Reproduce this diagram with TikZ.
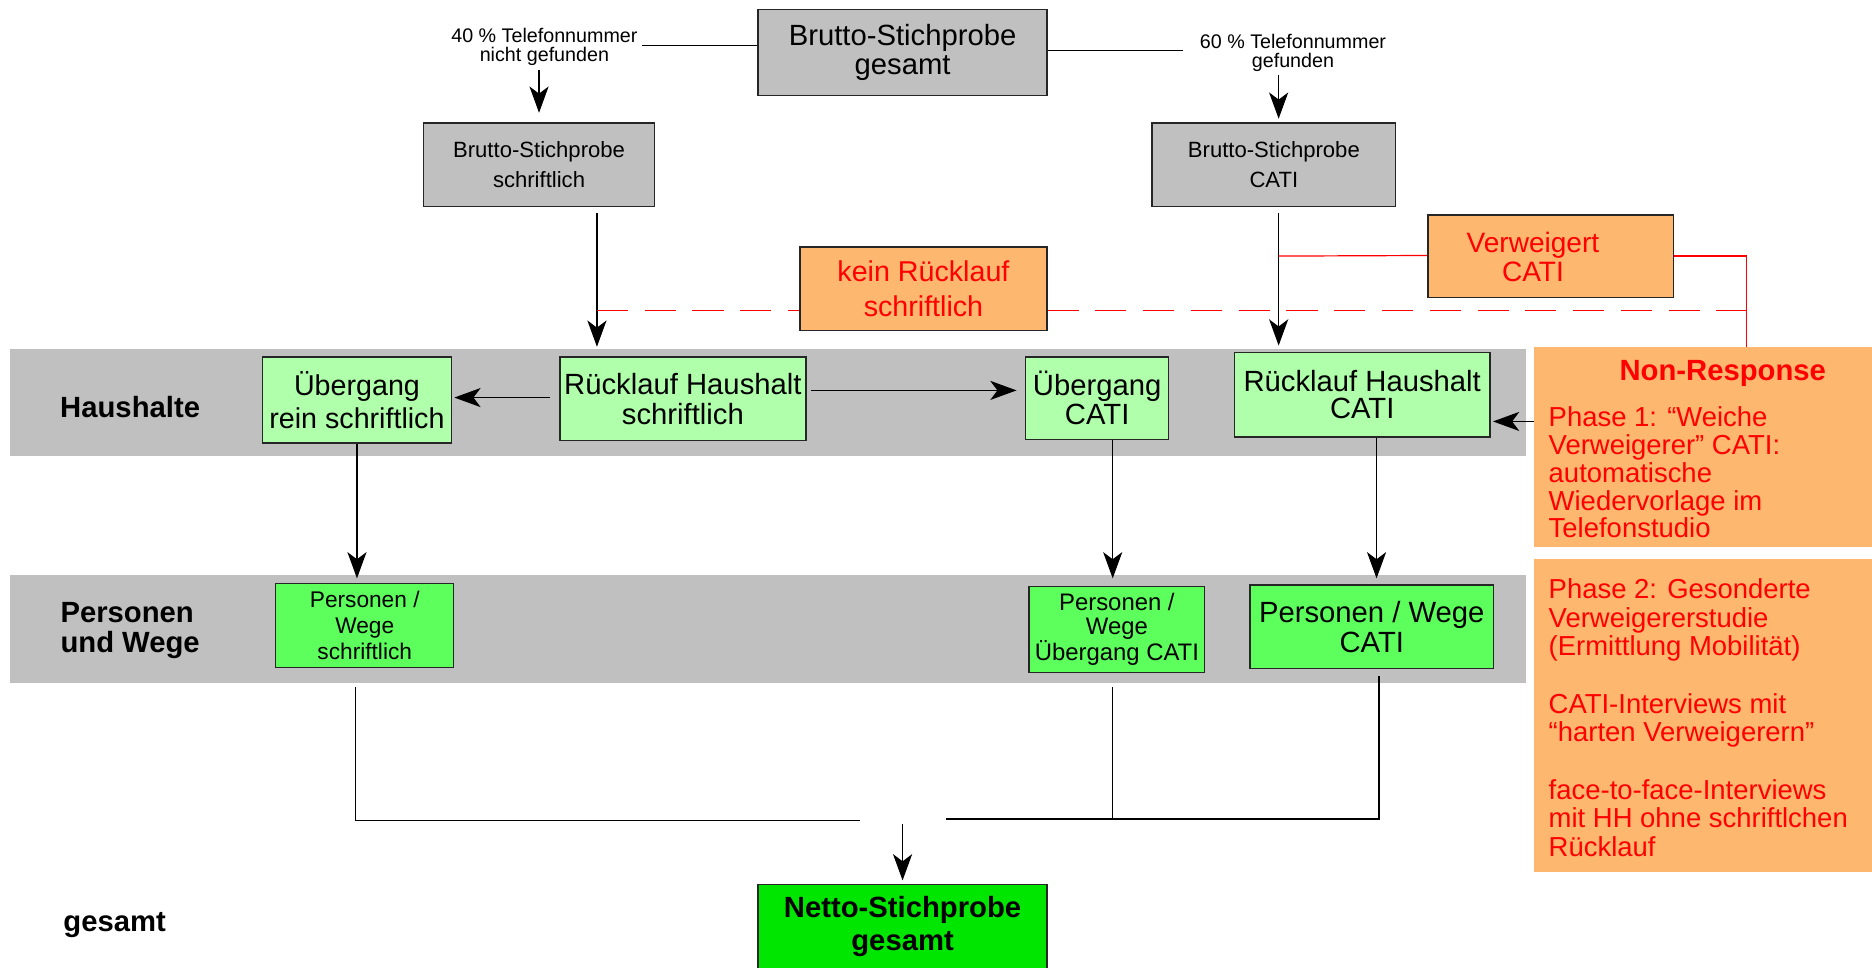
\documentclass[tikz,border=0pt]{standalone}
\usepackage{fontspec}
\setmainfont{Liberation Sans}
\usetikzlibrary{arrows.meta,calc}
\definecolor{bandgray}{RGB}{192,192,192}
\definecolor{lgreen}{RGB}{176,255,170}
\definecolor{bgreen}{RGB}{92,255,92}
\definecolor{ngreen}{RGB}{0,230,0}
\definecolor{orangeb}{RGB}{253,183,110}
\definecolor{redt}{RGB}{255,0,0}
\newcommand\fsz[2]{\fontsize{#1}{#2}\selectfont}
\tikzset{
  box/.style={draw=black!85, line width=1.1pt, align=center, inner sep=0pt, text=black},
  graybox/.style={box, fill=bandgray},
  lgbox/.style={box, fill=lgreen},
  bgbox/.style={box, fill=bgreen},
  obox/.style={box, fill=orangeb, text=redt},
  band/.style={fill=bandgray, inner sep=0pt},
  conn/.style={line width=1pt, black},
  arr/.style={conn, -{Stealth[length=22pt,width=16pt,inset=6pt]}},
  redl/.style={line width=1pt, redt},
  redd/.style={redl, dash pattern=on 26pt off 14pt},
  rowlab/.style={font=\bfseries\fsz{24.5}{25}, align=left},
  redtext/.style={text=redt, align=left, inner sep=0pt}
}
\begin{document}
\begin{tikzpicture}[x=1pt,y=-1pt]
\useasboundingbox (0,0) rectangle (1568,810);
% bands
\node[band, minimum width=1270, minimum height=90] (bandH) at (643,337) {};
\node[band, minimum width=1270, minimum height=90] (bandP) at (643,527) {};
\node[rowlab] (hh) at (109,341) {Haushalte};
\node[rowlab] (pw) at (109,528) {Personen\\und Wege};
\node[rowlab] (ges) at (96,775) {gesamt};
% top
\node[graybox, minimum width=242, minimum height=72, font=\fsz{24.5}{24}] (bg) at (756,44) {Brutto-Stichprobe\\gesamt};
\node[font=\fsz{16.5}{16}, align=center] (l40) at (456,39) {40 \% Telefonnummer\\nicht gefunden};
\node[font=\fsz{16.5}{16}, align=center] (l60) at (1083,44) {60 \% Telefonnummer\\gefunden};
\node[graybox, minimum width=193, minimum height=70, font=\fsz{18.5}{25}] (bs) at (451.5,138) {Brutto-Stichprobe\\schriftlich};
\node[graybox, minimum width=204, minimum height=70, font=\fsz{18.5}{25}] (bc) at (1067,138) {Brutto-Stichprobe\\CATI};
% orange
\node[obox, minimum width=207, minimum height=70, font=\fsz{24}{29}] (kR) at (773.5,242) {kein Rücklauf\\schriftlich};
\node[obox, minimum width=206, minimum height=69] (vC) at (1299,214.5) {};
\node[text=redt, align=center, font=\fsz{23.5}{24}, inner sep=0pt] (vCt) at (1284,215) {Verweigert\\CATI};
\node[fill=orangeb, inner sep=0pt, minimum width=285, minimum height=167] (nr) at (1427.5,374.5) {};
\node[fill=orangeb, inner sep=0pt, minimum width=285, minimum height=262] (ph2) at (1427.5,599) {};
\node[text=redt, font=\bfseries\fsz{24.5}{25}, inner sep=0pt] (nrt) at (1443,313) {Non-Response};
\node[redtext, font=\fsz{23}{23.3}, anchor=north west] (ph1t) at (1297,340.5) {Phase 1: “Weiche\\Verweigerer” CATI:\\automatische\\Wiedervorlage im\\Telefonstudio};
\node[redtext, font=\fsz{23}{24}, anchor=north west] (ph2t) at (1297,484.5) {Phase 2: Gesonderte\\Verweigererstudie\\(Ermittlung Mobilität)\\[24pt]CATI-Interviews mit\\“harten Verweigerern”\\[24pt]face-to-face-Interviews\\mit HH ohne schriftlchen\\Rücklauf};
% Haushalte row
\node[lgbox, minimum width=158, minimum height=72, font=\fsz{24}{28}] (ueR) at (299,335) {Übergang\\rein schriftlich};
\node[lgbox, minimum width=206, minimum height=70, font=\fsz{24.5}{25}] (rlS) at (572,334) {Rücklauf Haushalt\\schriftlich};
\node[lgbox, minimum width=120, minimum height=69, font=\fsz{24.5}{24}] (ueC) at (919,333.5) {Übergang\\CATI};
\node[lgbox, minimum width=214, minimum height=71, font=\fsz{24.5}{22}] (rlC) at (1141,330.5) {Rücklauf Haushalt\\CATI};
% Personen row
\node[bgbox, minimum width=149, minimum height=70, font=\fsz{19}{22}] (pwS) at (305.5,524) {Personen /\\Wege\\schriftlich};
\node[bgbox, minimum width=147, minimum height=72, font=\fsz{20}{20.5}] (pwU) at (935.5,527) {Personen /\\Wege\\Übergang CATI};
\node[bgbox, minimum width=204, minimum height=70, font=\fsz{24.5}{25}] (pwC) at (1149,525) {Personen / Wege\\CATI};
% Netto
\node[box, fill=ngreen, minimum width=242, minimum height=70, font=\bfseries\fsz{24.5}{27}] (net) at (756,776) {Netto-Stichprobe\\gesamt};
% coordinates
\coordinate (xs) at (500,0);
\coordinate (xc) at (1071,0);
\coordinate (xr) at (1463,0);
\coordinate (jl) at (720,687);
\coordinate (jr) at (792,686);
\coordinate (jm) at (756,690);
% top connectors
\draw[conn] ([yshift=6pt]bg.west) -- ([yshift=6pt]bg.west -| l40.east);
\draw[conn, shorten >=11pt] ([yshift=2pt]bg.east) -- ([yshift=2pt]bg.east -| l60.west);
\draw[arr, shorten >=8pt] (bs.north |- l40.south) -- (bs.north);
\draw[arr, shorten >=3pt] ([xshift=4pt]bc.north |- l60.south) -- ([xshift=4pt]bc.north);
\draw[arr, shorten <=5pt, shorten >=8pt] (bs.south -| xs) -- (rlS.north -| xs);
\draw[arr, shorten <=5pt, shorten >=5pt] (bc.south -| xc) -- (rlC.north -| xc);
% red lines
\draw[redl] (vC.west -| xc) -- ([yshift=0.5pt]vC.west);
\draw[redl] (vC.east) -| (nr.north -| xr);
\draw[redd] ([yshift=-18pt]kR.west -| xs) -- ([yshift=-18pt]kR.west);
\draw[redd] ([yshift=-18pt]kR.east) -- ([yshift=-18pt]kR.east -| xr);
% Haushalte arrows
\draw[arr, shorten <=8pt, shorten >=2pt] ([yshift=1pt]rlS.west) -- ([yshift=1pt]rlS.west -| ueR.east);
\draw[arr, shorten <=4pt, shorten >=7pt] ([yshift=7pt]rlS.east) -- ([yshift=7pt]rlS.east -| ueC.west);
\draw[arr, shorten >=2pt] ([yshift=21.5pt]nr.west) -- ([yshift=21.5pt]nr.west -| rlC.east);
\draw[arr, shorten >=4pt] (ueR.south) -- (ueR.south |- pwS.north);
\draw[arr, shorten >=6pt] ([xshift=13pt]ueC.south) -- ([xshift=13pt]ueC.south |- pwU.north);
\draw[arr, shorten >=5pt] ([xshift=12pt]rlC.south) -- ([xshift=12pt]rlC.south |- pwC.north);
% bottom merge
\draw[conn, shorten <=16pt] ([xshift=-7.5pt]pwS.south) |- (jl);
\draw[conn, shorten <=12pt] ([xshift=-3.5pt]pwU.south) -- ([xshift=-3.5pt]pwU.south |- jr);
\draw[conn, shorten <=6pt] ([xshift=6pt]pwC.south) |- (jr);
\draw[arr, shorten >=3pt] (jm) -- (net.north);
\end{tikzpicture}
\end{document}
